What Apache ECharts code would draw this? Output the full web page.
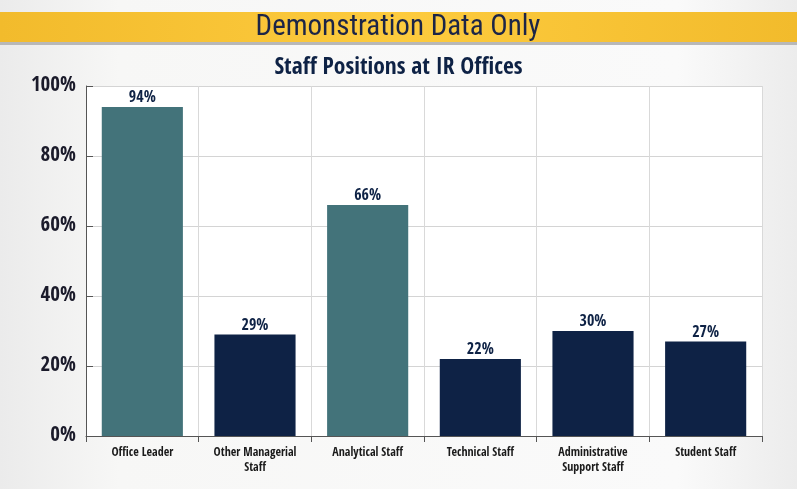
<!DOCTYPE html>
<html><head><meta charset="utf-8">
<script src="https://cdn.jsdelivr.net/npm/echarts@6/dist/echarts.min.js"></script>
<style>html,body{margin:0;padding:0;}#c{width:797px;height:489px;}</style>
</head><body><div id="c"></div>
<script>
const categories = ['Office Leader','Other Managerial\nStaff','Analytical Staff','Technical Staff','Administrative\nSupport Staff','Student Staff'];
const values = [94, 29, 66, 22, 30, 27];
const barColors = ['#43737a','#0e2245','#43737a','#0e2245','#0e2245','#0e2245'];
const yTicks = [0, 20, 40, 60, 80, 100];
const FONT = '"Open Sans Condensed","Roboto Condensed",sans-serif';
const FONT_REG = '"Roboto Condensed","Open Sans Condensed",sans-serif';
const chart = echarts.init(document.getElementById('c'));
chart.setOption({
  animation: false,
  backgroundColor: {type:'linear',x:0,y:0,x2:1,y2:0,colorStops:[{offset:0,color:'#ebebeb'},{offset:0.15,color:'#f7f7f6'},{offset:0.85,color:'#fafafa'},{offset:1,color:'#ececec'}]},
  graphic: [
    {type:'rect', shape:{x:0,y:12,width:797,height:31}, style:{fill:{type:'linear',x:0,y:0,x2:1,y2:0,colorStops:[{offset:0,color:'#f2bb2c'},{offset:0.5,color:'#fdcb3e'},{offset:1,color:'#f2bb2c'}]}}},
    {type:'rect', shape:{x:0,y:42,width:797,height:3}, style:{fill:'#b8b8b8'}},
    {type:'text', x:398, y:28, style:{text:'Demonstration Data Only', font:'normal 29px '+FONT_REG, fill:'#1c2547', textAlign:'center', textVerticalAlign:'middle'}}
  ],
  title: {text:'Staff Positions at IR Offices', left:'center', top:51, textStyle:{fontFamily:FONT, fontWeight:'bold', fontSize:23.5, color:'#0e2245'}},
  grid: {left:86, right:35, top:86, bottom:53, show:true, backgroundColor:'#ffffff', borderWidth:0},
  xAxis: {
    type:'category', data:categories,
    axisLine:{show:true, lineStyle:{color:'#555555', width:1}},
    axisTick:{show:true, length:6, lineStyle:{color:'#555555'}},
    splitLine:{show:true, lineStyle:{color:'#d9d9d9', width:1}},
    axisLabel:{fontFamily:FONT, fontWeight:'bold', fontSize:12, color:'#1a1a1a', margin:9, lineHeight:15, interval:0}
  },
  yAxis: {
    type:'value', min:0, max:100, interval:20,
    axisLine:{show:true, lineStyle:{color:'#555555', width:1}},
    axisTick:{show:true, inside:true, length:7, lineStyle:{color:'#555555'}},
    splitLine:{show:true, lineStyle:{color:'#d4d4d4', width:1}},
    axisLabel:{formatter: v => yTicks.includes(v) ? v + '%' : '', fontFamily:FONT, fontWeight:'bold', fontSize:21, color:'#1a1a2a', margin:10}
  },
  series: [{
    type:'bar', barWidth:'72%',
    data: values.map((v,i)=>({value:v, itemStyle:{color:barColors[i]}})),
    label:{show:true, position:'top', distance:1, formatter:'{c}%', fontFamily:FONT, fontWeight:'bold', fontSize:16, color:'#0e2245'}
  }]
});
</script></body></html>
